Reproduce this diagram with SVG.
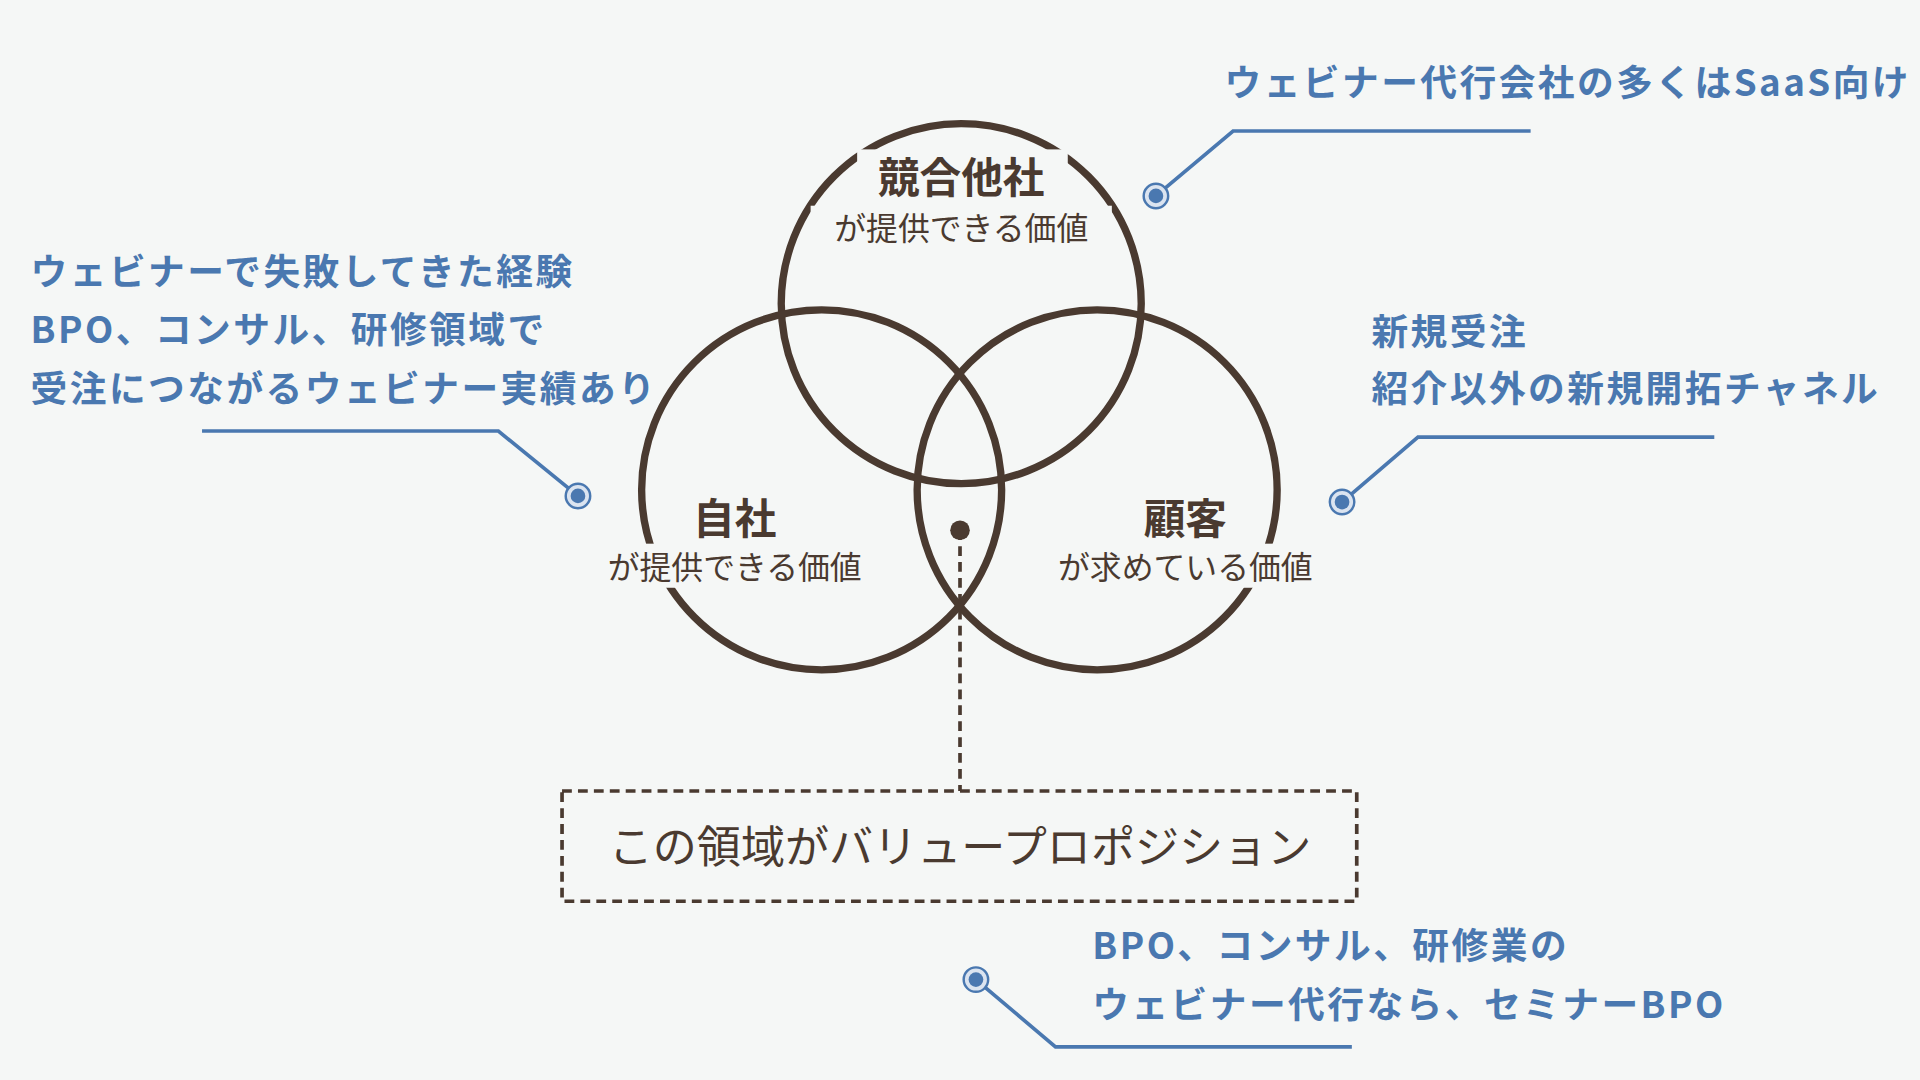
<svg xmlns="http://www.w3.org/2000/svg" width="1920" height="1080" viewBox="0 0 1920 1080">
<style>
.c{fill:none;stroke:#4a3a30;stroke-width:6}
.t{font-family:"Noto Sans CJK JP","Noto Sans",sans-serif;fill:#4a3a30;text-anchor:middle}
.h{font-size:34px;font-weight:700}
.s{font-size:26px}
.b{font-family:"Noto Sans CJK JP","Noto Sans",sans-serif;fill:#4a78b0;font-size:30px;font-weight:700;letter-spacing:2px}
.l{fill:none;stroke:#4a78b0;stroke-width:3}
.bg{fill:#f5f7f6}
</style>
<rect width="1920" height="1080" fill="#f5f7f6"/>
<g transform="scale(1.2245)">
<g id="circles">
<circle class="c" cx="785" cy="248" r="147"/>
<circle class="c" cx="671" cy="400" r="147"/>
<circle class="c" cx="896" cy="400" r="147"/>
</g>
<g id="competitor">
<rect class="bg" x="700" y="122" width="172" height="46"/>
<rect class="bg" x="662" y="168" width="246" height="34"/>
<text class="t h" x="785" y="158">競合他社</text>
<text class="t s" x="785" y="196">が提供できる価値</text>
</g>
<g id="self">
<rect class="bg" x="480" y="444" width="240" height="36"/>
<text class="t h" x="600" y="436">自社</text>
<text class="t s" x="600" y="473">が提供できる価値</text>
</g>
<g id="customer">
<rect class="bg" x="848" y="444" width="240" height="36"/>
<text class="t h" x="968" y="436">顧客</text>
<text class="t s" x="968" y="473">が求めている価値</text>
</g>
<g id="connectors">
<line x1="784" y1="433" x2="784" y2="646" stroke="#4a3a30" stroke-width="3" stroke-dasharray="8,5"/>
<polyline class="l" points="165,352 407,352 472,405"/>
<polyline class="l" points="1250,107 1007,107 944,160"/>
<polyline class="l" points="1400,357 1158,357 1096,410"/>
<polyline class="l" points="797,800 862,855 1104,855"/>
</g>
<circle cx="784" cy="433" r="8" fill="#4a3a30"/>
<g id="vp">
<rect x="459" y="646" width="649" height="90" fill="none" stroke="#4a3a30" stroke-width="3" stroke-dasharray="8,5"/>
<text class="t" x="784" y="705" font-size="36">この領域がバリュープロポジション</text>
</g>
<g id="dots" fill="#dbe4f0" stroke="#4a78b0" stroke-width="2">
<circle cx="472" cy="405" r="10"/><circle cx="944" cy="160" r="10"/><circle cx="1096" cy="410" r="10"/><circle cx="797" cy="800" r="10"/>
</g>
<g fill="#4a78b0">
<circle cx="472" cy="405" r="6"/><circle cx="944" cy="160" r="6"/><circle cx="1096" cy="410" r="6"/><circle cx="797" cy="800" r="6"/>
</g>
<g id="note-left">
<text class="b" x="25" y="233">ウェビナーで失敗してきた経験</text>
<text class="b" x="25" y="280">BPO、コンサル、研修領域で</text>
<text class="b" x="25" y="328">受注につながるウェビナー実績あり</text>
</g>
<g id="note-top">
<text class="b" x="1000" y="78">ウェビナー代行会社の多くはSaaS向け</text>
</g>
<g id="note-right">
<text class="b" x="1120" y="282">新規受注</text>
<text class="b" x="1120" y="328">紹介以外の新規開拓チャネル</text>
</g>
<g id="note-bottom">
<text class="b" x="892" y="783">BPO、コンサル、研修業の</text>
<text class="b" x="892" y="831">ウェビナー代行なら、セミナーBPO</text>
</g>
</g>
</svg>
